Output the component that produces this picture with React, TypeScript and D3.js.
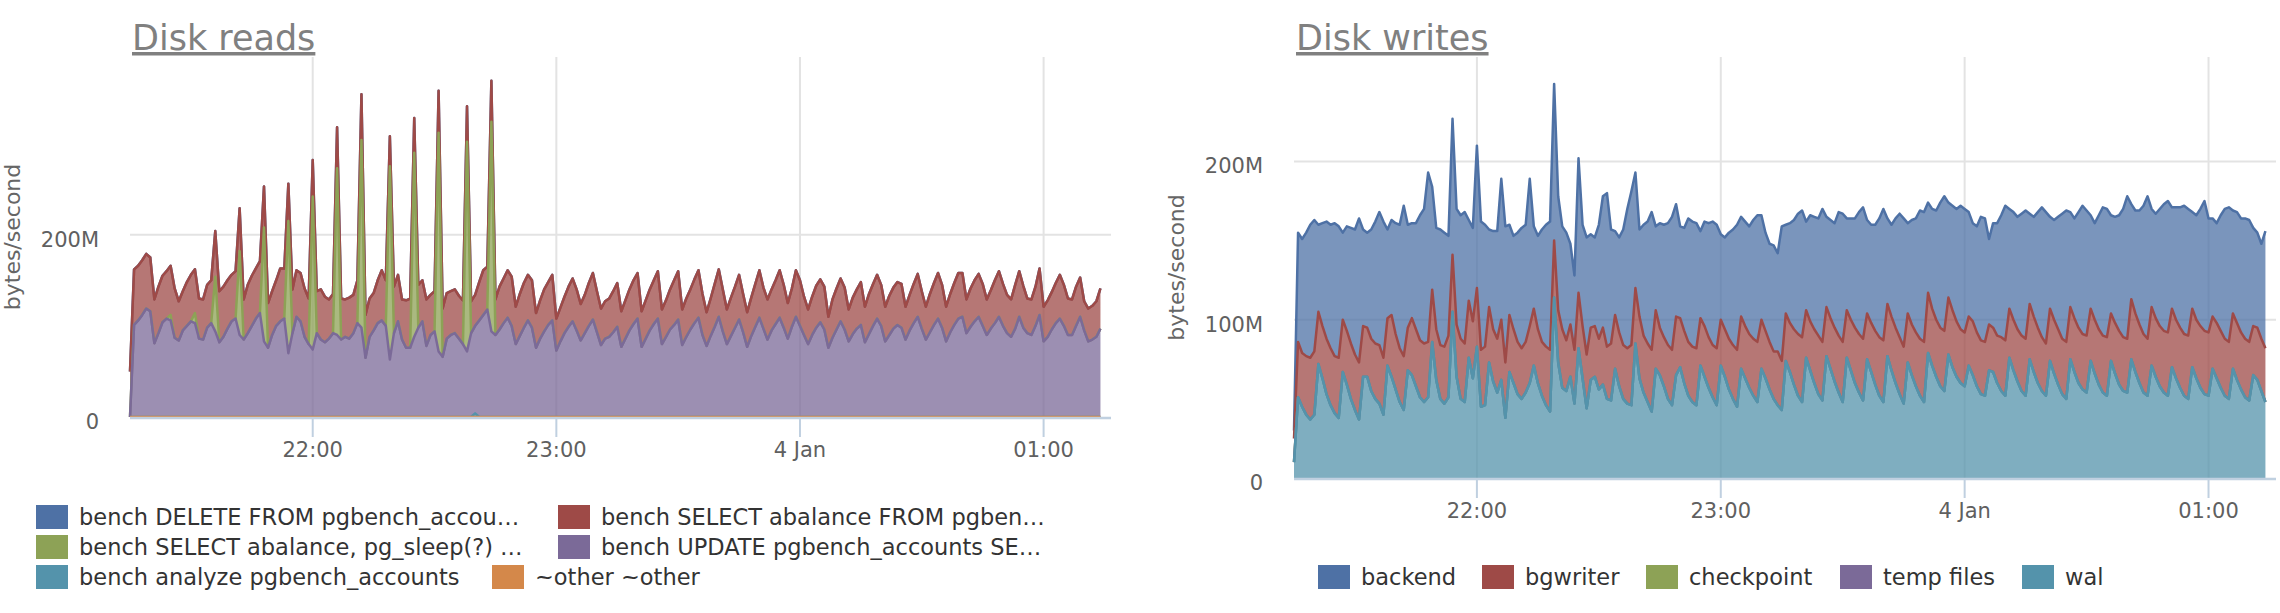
import React, { useRef, useEffect } from 'react';
import * as d3 from 'd3';

// one sample per minute, from 3 Jan 21:15 onwards
const startTime = new Date(2016, 0, 3, 21, 15);
const endTime = new Date(2016, 0, 4, 1, 16, 36);

// Disk reads, stacked levels in MB/s
const readsUpdateTop = [
  0, 101, 106, 112, 119, 116, 81, 92, 104, 108, 106, 87, 84, 95, 100, 105, 103, 86, 85, 98,
  103, 94, 82, 88, 97, 105, 108, 90, 85, 92, 100, 108, 114, 83, 76, 90, 100, 105, 108, 70,
  92, 110, 105, 88, 80, 74, 92, 85, 82, 86, 92, 90, 85, 88, 86, 92, 103, 98, 65, 88,
  95, 103, 106, 100, 63, 92, 105, 85, 76, 76, 88, 98, 105, 78, 90, 94, 72, 66, 86, 90,
  92, 86, 80, 72, 92, 100, 106, 112, 118, 94, 90, 96, 103, 109, 100, 80, 89, 98, 106, 98,
  76, 86, 94, 101, 106, 73, 83, 92, 99, 105, 95, 84, 92, 100, 107, 93, 79, 86, 88, 93,
  99, 77, 86, 95, 102, 108, 77, 86, 95, 102, 108, 80, 88, 96, 101, 107, 79, 88, 96, 103,
  109, 90, 78, 89, 99, 110, 94, 80, 89, 98, 107, 93, 77, 89, 99, 109, 97, 85, 95, 102,
  109, 98, 86, 99, 110, 100, 90, 80, 90, 98, 104, 96, 76, 87, 96, 105, 96, 83, 91, 97,
  101, 82, 91, 100, 108, 100, 83, 90, 97, 101, 98, 85, 95, 103, 110, 97, 85, 93, 101, 108,
  98, 83, 93, 101, 108, 110, 92, 99, 105, 110, 100, 90, 97, 103, 110, 100, 92, 88, 97, 110,
  98, 92, 90, 100, 112, 83, 88, 96, 103, 108, 100, 90, 90, 100, 110, 95, 83, 85, 88, 97,
];
const readsSelectTop = [
  50, 162, 166, 172, 179, 175, 129, 143, 155, 160, 166, 141, 127, 138, 148, 156, 162, 130, 129, 145,
  150, 204, 138, 143, 150, 156, 160, 229, 129, 145, 155, 163, 171, 253, 125, 138, 150, 163, 163, 256,
  140, 161, 158, 141, 130, 282, 138, 140, 132, 129, 135, 318, 130, 129, 131, 134, 150, 354, 112, 130,
  136, 150, 161, 150, 308, 143, 156, 129, 128, 130, 328, 145, 150, 129, 134, 138, 358, 119, 136, 138,
  140, 133, 128, 341, 127, 134, 148, 161, 165, 369, 129, 143, 152, 161, 154, 121, 135, 147, 156, 150,
  114, 128, 140, 148, 156, 108, 120, 132, 143, 152, 140, 124, 134, 147, 158, 138, 119, 127, 130, 138,
  147, 116, 128, 140, 150, 158, 116, 128, 140, 150, 160, 118, 128, 140, 150, 160, 118, 130, 140, 151,
  161, 135, 115, 130, 146, 162, 140, 118, 131, 143, 156, 135, 115, 131, 146, 161, 142, 129, 140, 150,
  161, 145, 125, 141, 161, 150, 132, 118, 132, 144, 151, 143, 110, 129, 141, 152, 142, 118, 131, 140,
  148, 121, 135, 146, 156, 145, 121, 133, 142, 148, 146, 121, 134, 146, 157, 138, 121, 135, 147, 158,
  145, 121, 135, 147, 158, 158, 129, 141, 150, 157, 146, 129, 139, 150, 160, 146, 134, 129, 145, 160,
  144, 130, 129, 143, 163, 121, 128, 137, 147, 156, 145, 130, 129, 143, 153, 127, 119, 122, 127, 141,
];
// [minute, level] where pg_sleep rises above the UPDATE level
const readsSleepPeaks = [
  [10, 112], [16, 114], [21, 154], [27, 182], [33, 208], [39, 215], [45, 242],
  [51, 273], [57, 304], [64, 275], [70, 290], [76, 312], [83, 302], [89, 324],
];
const readsAnalyzePeaks = [[85, 4]];

// Disk writes, stacked levels in MB/s
const writesWalTop = [
  10, 51, 45, 40, 37, 40, 72, 63, 53, 46, 41, 38, 67, 59, 50, 43, 37, 64, 64, 55,
  50, 47, 40, 71, 64, 56, 48, 43, 68, 65, 58, 51, 48, 51, 86, 62, 50, 47, 51, 105,
  64, 50, 48, 76, 63, 83, 45, 46, 73, 61, 54, 62, 38, 67, 60, 53, 50, 54, 60, 71,
  60, 52, 46, 42, 114, 73, 57, 55, 64, 47, 82, 63, 44, 62, 64, 56, 59, 50, 49, 69,
  58, 50, 47, 46, 85, 63, 54, 48, 42, 69, 65, 58, 50, 46, 65, 70, 60, 52, 48, 46,
  71, 64, 57, 51, 46, 71, 64, 56, 50, 45, 69, 63, 57, 52, 48, 69, 63, 56, 50, 46,
  43, 74, 67, 59, 52, 48, 76, 68, 60, 53, 49, 77, 69, 61, 54, 48, 76, 68, 60, 54,
  49, 75, 67, 59, 52, 48, 77, 68, 60, 53, 47, 73, 65, 58, 52, 48, 79, 71, 64, 58,
  55, 78, 70, 64, 60, 58, 71, 65, 58, 53, 52, 68, 67, 60, 55, 52, 76, 68, 61, 55,
  52, 75, 67, 60, 55, 52, 74, 66, 59, 53, 50, 75, 67, 60, 56, 54, 74, 66, 59, 54,
  52, 74, 66, 59, 55, 54, 75, 67, 60, 54, 52, 71, 64, 58, 54, 52, 70, 63, 57, 52,
  50, 70, 63, 57, 53, 52, 69, 63, 57, 52, 50, 69, 62, 56, 51, 49, 65, 62, 55, 48,
];
const writesBgwriterTop = [
  25, 86, 79, 77, 76, 80, 105, 96, 88, 82, 77, 76, 100, 93, 85, 78, 73, 96, 95, 88,
  85, 84, 76, 101, 103, 91, 82, 77, 95, 101, 94, 87, 85, 86, 119, 94, 84, 83, 90, 141,
  97, 88, 85, 112, 99, 120, 81, 83, 108, 94, 88, 100, 73, 103, 94, 86, 82, 86, 96, 107,
  94, 86, 83, 81, 150, 106, 94, 87, 97, 81, 117, 96, 78, 95, 96, 88, 95, 83, 85, 103,
  92, 84, 82, 84, 120, 102, 90, 85, 81, 106, 95, 89, 84, 81, 102, 101, 93, 86, 83, 82,
  101, 96, 89, 84, 82, 100, 94, 88, 84, 81, 102, 96, 91, 88, 86, 100, 93, 86, 80, 80,
  74, 104, 98, 94, 91, 89, 106, 99, 94, 90, 86, 108, 101, 95, 90, 86, 106, 100, 95, 91,
  88, 104, 98, 93, 89, 87, 110, 102, 95, 89, 83, 104, 97, 92, 88, 86, 117, 107, 100, 95,
  93, 114, 106, 99, 94, 92, 102, 99, 92, 87, 86, 97, 95, 90, 89, 87, 107, 100, 94, 90,
  88, 110, 102, 95, 89, 85, 107, 100, 94, 88, 86, 108, 101, 95, 91, 90, 107, 100, 94, 90,
  89, 104, 98, 93, 89, 88, 113, 104, 97, 91, 88, 108, 101, 96, 93, 92, 107, 100, 95, 91,
  90, 107, 100, 96, 93, 92, 102, 98, 93, 88, 86, 104, 98, 92, 88, 86, 96, 95, 88, 82,
];
const writesBackendTop = [
  30, 155, 151, 155, 160, 163, 160, 161, 162, 160, 161, 159, 155, 159, 158, 157, 164, 157, 155, 157,
  162, 168, 162, 157, 163, 161, 160, 172, 160, 161, 161, 166, 170, 193, 184, 158, 157, 155, 153, 227,
  170, 166, 168, 163, 158, 210, 162, 160, 157, 156, 156, 189, 159, 160, 153, 155, 158, 160, 189, 159,
  153, 157, 160, 162, 249, 178, 159, 155, 148, 128, 202, 160, 152, 154, 152, 160, 178, 180, 157, 156,
  152, 157, 170, 181, 193, 157, 160, 162, 168, 159, 161, 160, 161, 165, 173, 159, 158, 164, 162, 161,
  156, 162, 161, 162, 160, 154, 152, 155, 157, 160, 165, 162, 159, 163, 166, 166, 155, 148, 147, 142,
  159, 160, 161, 163, 167, 169, 162, 166, 165, 164, 170, 165, 163, 161, 168, 167, 164, 164, 164, 168,
  171, 163, 160, 160, 164, 170, 164, 160, 164, 167, 164, 161, 163, 164, 169, 168, 174, 170, 169, 174,
  178, 174, 172, 170, 172, 170, 168, 161, 159, 165, 164, 151, 161, 161, 166, 172, 170, 168, 165, 167,
  169, 167, 165, 168, 171, 168, 165, 163, 165, 167, 169, 168, 164, 168, 172, 169, 166, 161, 166, 171,
  170, 166, 165, 166, 170, 178, 173, 169, 169, 172, 178, 170, 167, 170, 173, 175, 171, 171, 171, 172,
  170, 168, 166, 170, 175, 164, 164, 161, 166, 170, 171, 169, 168, 164, 164, 163, 158, 155, 148, 156,
];

const readsYTicks = [0, 200];
const writesYTicks = [0, 100, 200];

const palette = ['#4e71a5', '#9e4a47', '#8da256', '#7b6a98', '#5493ab', '#d4884a'];
const font = "'DejaVu Sans', Verdana, sans-serif";

const withPeaks = (base: number[], peaks: number[][]) =>
  base.map((v, i) => {
    const p = peaks.find(d => d[0] === i);
    return p ? p[1] : v;
  });
const zeros = readsSelectTop.map(() => 0);

interface Series { name: string; color: string; top: number[] }
interface ChartSpec {
  title: string;
  left: number; right: number; top: number; bottom: number;
  yMax: number; yTicks: number[];
  series: Series[];
  legend: { x: number; y: number }[];
}

const readsChart: ChartSpec = {
  title: 'Disk reads',
  left: 130, right: 1111, top: 57, bottom: 417,
  yMax: 395, yTicks: readsYTicks,
  series: [
    { name: 'bench DELETE FROM pgbench_accou…', color: palette[0], top: readsSelectTop },
    { name: 'bench SELECT abalance FROM pgben…', color: palette[1], top: readsSelectTop },
    { name: 'bench SELECT abalance, pg_sleep(?) …', color: palette[2], top: withPeaks(readsUpdateTop, readsSleepPeaks) },
    { name: 'bench UPDATE pgbench_accounts SE…', color: palette[3], top: readsUpdateTop },
    { name: 'bench analyze pgbench_accounts', color: palette[4], top: withPeaks(zeros, readsAnalyzePeaks) },
    { name: '~other ~other', color: palette[5], top: zeros },
  ],
  legend: [
    { x: 36, y: 517 }, { x: 558, y: 517 },
    { x: 36, y: 547 }, { x: 558, y: 547 },
    { x: 36, y: 577 }, { x: 492, y: 577 },
  ],
};

const writesChart: ChartSpec = {
  title: 'Disk writes',
  left: 1294, right: 2276, top: 57, bottom: 478,
  yMax: 266, yTicks: writesYTicks,
  series: [
    { name: 'backend', color: palette[0], top: writesBackendTop },
    { name: 'bgwriter', color: palette[1], top: writesBgwriterTop },
    { name: 'checkpoint', color: palette[2], top: writesWalTop },
    { name: 'temp files', color: palette[3], top: writesWalTop },
    { name: 'wal', color: palette[4], top: writesWalTop },
  ],
  legend: [
    { x: 1318, y: 577 }, { x: 1482, y: 577 }, { x: 1646, y: 577 },
    { x: 1840, y: 577 }, { x: 2022, y: 577 },
  ],
};

const fmtTick = (d: Date) =>
  d.getHours() === 0 ? d3.timeFormat('%-d %b')(d) : d3.timeFormat('%H:%M')(d);

function drawChart(svg: d3.Selection<SVGSVGElement, unknown, null, undefined>, spec: ChartSpec) {
  const g = svg.append('g').attr('font-family', font);
  const x = d3.scaleTime().domain([startTime, endTime]).range([spec.left, spec.right]);
  const y = d3.scaleLinear().domain([0, spec.yMax]).range([spec.bottom, spec.top]);
  const hours = x.ticks(d3.timeHour.every(1) as d3.TimeInterval);
  const times = spec.series[0].top.map((_, i) => d3.timeMinute.offset(startTime, i));

  g.append('text')
    .attr('x', spec.left + 2)
    .attr('y', 50)
    .attr('font-size', 35)
    .attr('fill', '#808080')
    .attr('text-decoration', 'underline')
    .text(spec.title);

  // grid
  g.append('g').selectAll('line').data(hours).join('line')
    .attr('x1', d => x(d)).attr('x2', d => x(d))
    .attr('y1', spec.top).attr('y2', spec.bottom)
    .attr('stroke', '#e3e3e3').attr('stroke-width', 2);
  g.append('g').selectAll('line').data(spec.yTicks.filter(v => v > 0)).join('line')
    .attr('x1', spec.left).attr('x2', spec.right)
    .attr('y1', d => y(d)).attr('y2', d => y(d))
    .attr('stroke', '#e3e3e3').attr('stroke-width', 2);

  // stacked areas, first series sits on top
  spec.series.forEach((s, k) => {
    const lower = k + 1 < spec.series.length ? spec.series[k + 1].top : zeros;
    const area = d3.area<number>()
      .x((_, i) => x(times[i]))
      .y0((_, i) => y(lower[i]))
      .y1(d => y(d));
    const line = d3.line<number>()
      .x((_, i) => x(times[i]))
      .y(d => y(d));
    g.append('path').datum(s.top).attr('d', area)
      .attr('fill', s.color).attr('fill-opacity', 0.75);
    g.append('path').datum(s.top).attr('d', line)
      .attr('fill', 'none').attr('stroke', s.color)
      .attr('stroke-width', 2.5).attr('stroke-linejoin', 'round');
  });

  // x axis
  g.append('line')
    .attr('x1', spec.left).attr('x2', spec.right)
    .attr('y1', spec.bottom + 1).attr('y2', spec.bottom + 1)
    .attr('stroke', '#c0d0e0').attr('stroke-width', 2.5);
  g.append('g').selectAll('line').data(hours).join('line')
    .attr('x1', d => x(d)).attr('x2', d => x(d))
    .attr('y1', spec.bottom).attr('y2', spec.bottom + 20)
    .attr('stroke', '#c0d0e0').attr('stroke-width', 2);
  g.append('g').selectAll('text').data(hours).join('text')
    .attr('x', d => x(d)).attr('y', spec.bottom + 40)
    .attr('text-anchor', 'middle').attr('font-size', 21).attr('fill', '#606060')
    .text(d => fmtTick(d));

  // y axis labels
  g.append('g').selectAll('text').data(spec.yTicks).join('text')
    .attr('x', spec.left - 31).attr('y', d => y(d) + 12)
    .attr('text-anchor', 'end').attr('font-size', 21).attr('fill', '#606060')
    .text(d => (d === 0 ? '0' : `${d}M`));

  g.append('text')
    .attr('transform', `translate(${spec.left - 110},${(spec.top + spec.bottom) / 2}) rotate(-90)`)
    .attr('text-anchor', 'middle').attr('font-size', 22).attr('fill', '#666')
    .text('bytes/second');

  // legend
  const items = g.append('g').selectAll('g').data(spec.series).join('g')
    .attr('transform', (_, i) => `translate(${spec.legend[i].x},${spec.legend[i].y})`);
  items.append('rect')
    .attr('x', 0).attr('y', -12).attr('width', 32).attr('height', 24)
    .attr('fill', d => d.color);
  items.append('text')
    .attr('x', 43).attr('y', 8)
    .attr('font-size', 22.5).attr('fill', '#333')
    .text(d => d.name);
}

export default function App() {
  const svgRef = useRef<SVGSVGElement>(null);

  useEffect(() => {
    if (!svgRef.current) return;
    const svg = d3.select(svgRef.current);
    svg.selectAll('*').remove();
    drawChart(svg, readsChart);
    drawChart(svg, writesChart);
  }, []);

  return (
    <div>
      <style>{'body{margin:0}'}</style>
      <svg ref={svgRef} width={2280} height={613} style={{ display: 'block', background: '#fff' }} />
    </div>
  );
}
